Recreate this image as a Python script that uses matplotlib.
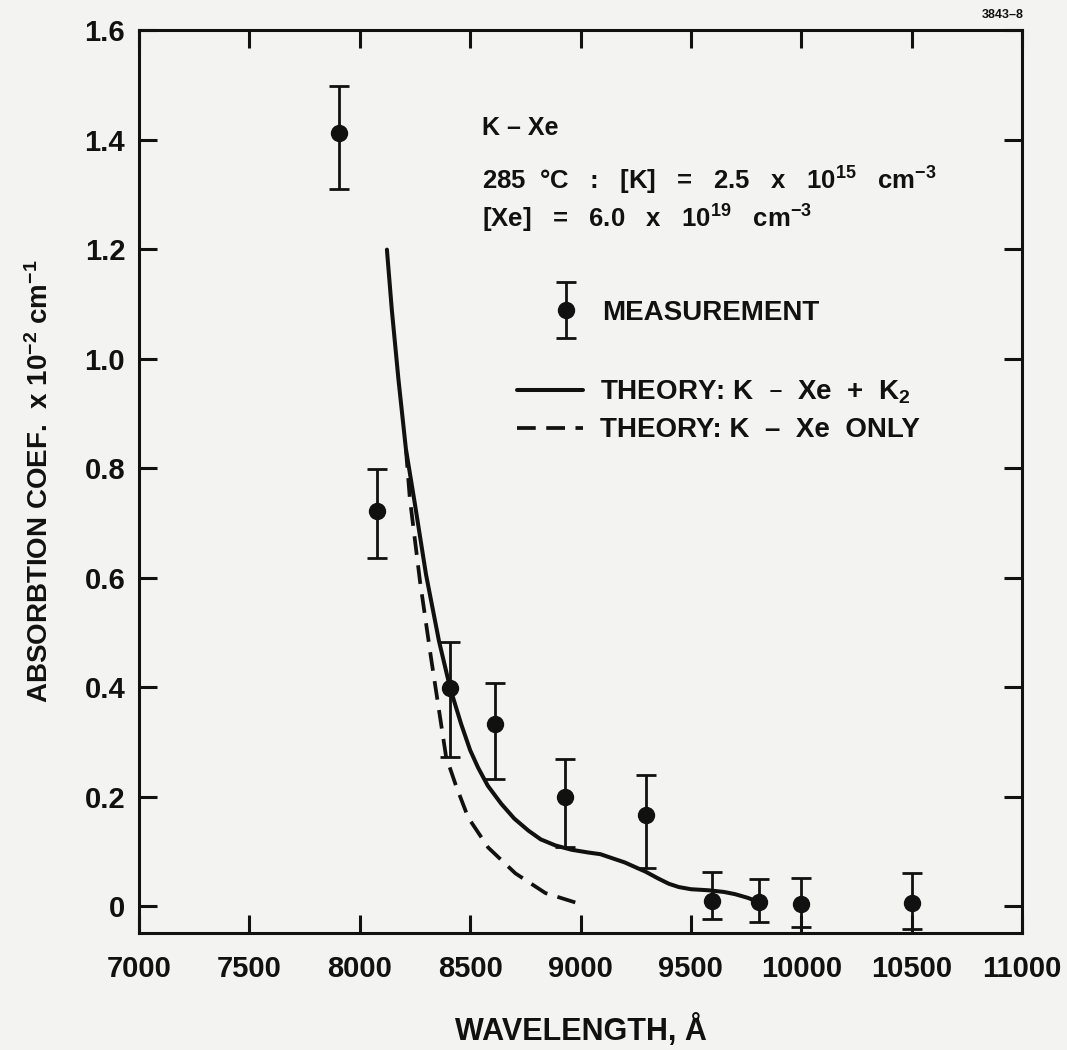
import matplotlib
matplotlib.use('Agg')
import matplotlib.pyplot as plt
from matplotlib.container import ErrorbarContainer
from matplotlib.legend_handler import HandlerErrorbar

# Measured absorption (x 10^-2 cm^-1) with asymmetric error bars
wavelength_meas = [7905, 8077, 8409, 8614, 8932, 9295, 9595, 9809, 10000, 10500]
absorb_meas = [1.412, 0.722, 0.399, 0.333, 0.200, 0.166, 0.009, 0.007, 0.004, 0.005]
err_low = [0.102, 0.087, 0.126, 0.100, 0.091, 0.097, 0.033, 0.036, 0.042, 0.047]
err_high = [0.086, 0.077, 0.083, 0.075, 0.069, 0.074, 0.053, 0.042, 0.047, 0.055]

# Theory: K-Xe + K2 (solid)
wl_full = [8123, 8145, 8175, 8209, 8248, 8300, 8359, 8409, 8459, 8500, 8536, 8580,
           8641, 8700, 8764, 8820, 8886, 8960, 9036, 9090, 9141, 9200, 9250, 9295,
           9350, 9400, 9445, 9500, 9582, 9650, 9700, 9760, 9809]
abs_full = [1.199, 1.090, 0.963, 0.835, 0.739, 0.606, 0.484, 0.399, 0.333, 0.285, 0.253, 0.220,
            0.187, 0.160, 0.138, 0.122, 0.111, 0.103, 0.098, 0.095, 0.088, 0.080, 0.071, 0.063,
            0.051, 0.041, 0.035, 0.031, 0.029, 0.026, 0.022, 0.015, 0.007]

# Theory: K-Xe only (dashed)
wl_kxe = [8209, 8227, 8273, 8323, 8391, 8436, 8491, 8582, 8705, 8841, 8991]
abs_kxe = [0.835, 0.744, 0.593, 0.453, 0.273, 0.220, 0.162, 0.107, 0.060, 0.024, 0.005]

x_ticks = [7000, 7500, 8000, 8500, 9000, 9500, 10000, 10500, 11000]
y_ticks = [0, 0.2, 0.4, 0.6, 0.8, 1.0, 1.2, 1.4, 1.6]
y_tick_labels = ['0', '0.2', '0.4', '0.6', '0.8', '1.0', '1.2', '1.4', '1.6']

ink = '#111111'
paper = '#f3f3f1'

plt.rcParams['font.family'] = ['Liberation Sans', 'DejaVu Sans']
plt.rcParams['font.weight'] = 'bold'
plt.rcParams['axes.labelweight'] = 'bold'
plt.rcParams['mathtext.default'] = 'regular'

fig = plt.figure(figsize=(10.67, 10.5), dpi=100, facecolor=paper)
ax = fig.add_axes([0.1303, 0.1114, 0.8275, 0.86])
ax.set_facecolor(paper)

eb = ax.errorbar(wavelength_meas, absorb_meas, yerr=[err_low, err_high], fmt='o',
                 color=ink, ms=11.5, elinewidth=2.0, capsize=7.5, capthick=2.0,
                 clip_on=False, zorder=3)
solid, = ax.plot(wl_full, abs_full, color=ink, lw=2.9, solid_capstyle='round',
                 solid_joinstyle='round', zorder=2)
dashed, = ax.plot(wl_kxe, abs_kxe, color=ink, lw=2.7, dashes=(5, 2.8), zorder=2)

ax.set_xlim(7000, 11000)
ax.set_ylim(-0.049, 1.597)
ax.set_xticks(x_ticks)
ax.set_yticks(y_ticks)
ax.set_yticklabels(y_tick_labels)
ax.tick_params(direction='in', length=13, width=2.2, top=True, right=True,
               labelsize=21, colors=ink)
ax.tick_params(axis='x', pad=16)
ax.tick_params(axis='y', pad=10)
for sp in ax.spines.values():
    sp.set_linewidth(2.2)
    sp.set_color(ink)

ax.set_xlabel('WAVELENGTH, Å', fontsize=22, color=ink, labelpad=22)
ax.set_ylabel('ABSORBTION COEF.  x 10$^{-2}$ cm$^{-1}$', fontsize=20, color=ink, labelpad=22)

# conditions text
ax.text(0.388, 0.884, 'K – Xe', transform=ax.transAxes, fontsize=18, color=ink)
ax.text(0.388, 0.823, '285  °C   :   [K]   =   2.5   x   10$^{15}$   cm$^{-3}$',
        transform=ax.transAxes, fontsize=18.5, color=ink)
ax.text(0.388, 0.781, '[Xe]   =   6.0   x   10$^{19}$   cm$^{-3}$',
        transform=ax.transAxes, fontsize=18.5, color=ink)

# legends
leg1 = ax.legend([eb], ['MEASUREMENT'], loc='center left', bbox_to_anchor=(0.452, 0.687),
                 frameon=False, fontsize=20, borderpad=0, handlelength=1.0,
                 handletextpad=0.8, numpoints=1,
                 handler_map={ErrorbarContainer: HandlerErrorbar(yerr_size=1.0)})
for t in leg1.get_texts():
    t.set_color(ink)
ax.add_artist(leg1)
leg2 = ax.legend([solid, dashed], ['THEORY: K  –  Xe  +  K$_2$', 'THEORY: K  –  Xe  ONLY'],
                 loc='center left', bbox_to_anchor=(0.412, 0.578), frameon=False,
                 fontsize=20, borderpad=0, handlelength=2.4, handletextpad=0.6,
                 labelspacing=0.4)
for t in leg2.get_texts():
    t.set_color(ink)

fig.text(0.959, 0.986, '3843–8', ha='right', va='center', fontsize=9, color=ink)

plt.savefig('out.png', dpi=100, facecolor=paper)
